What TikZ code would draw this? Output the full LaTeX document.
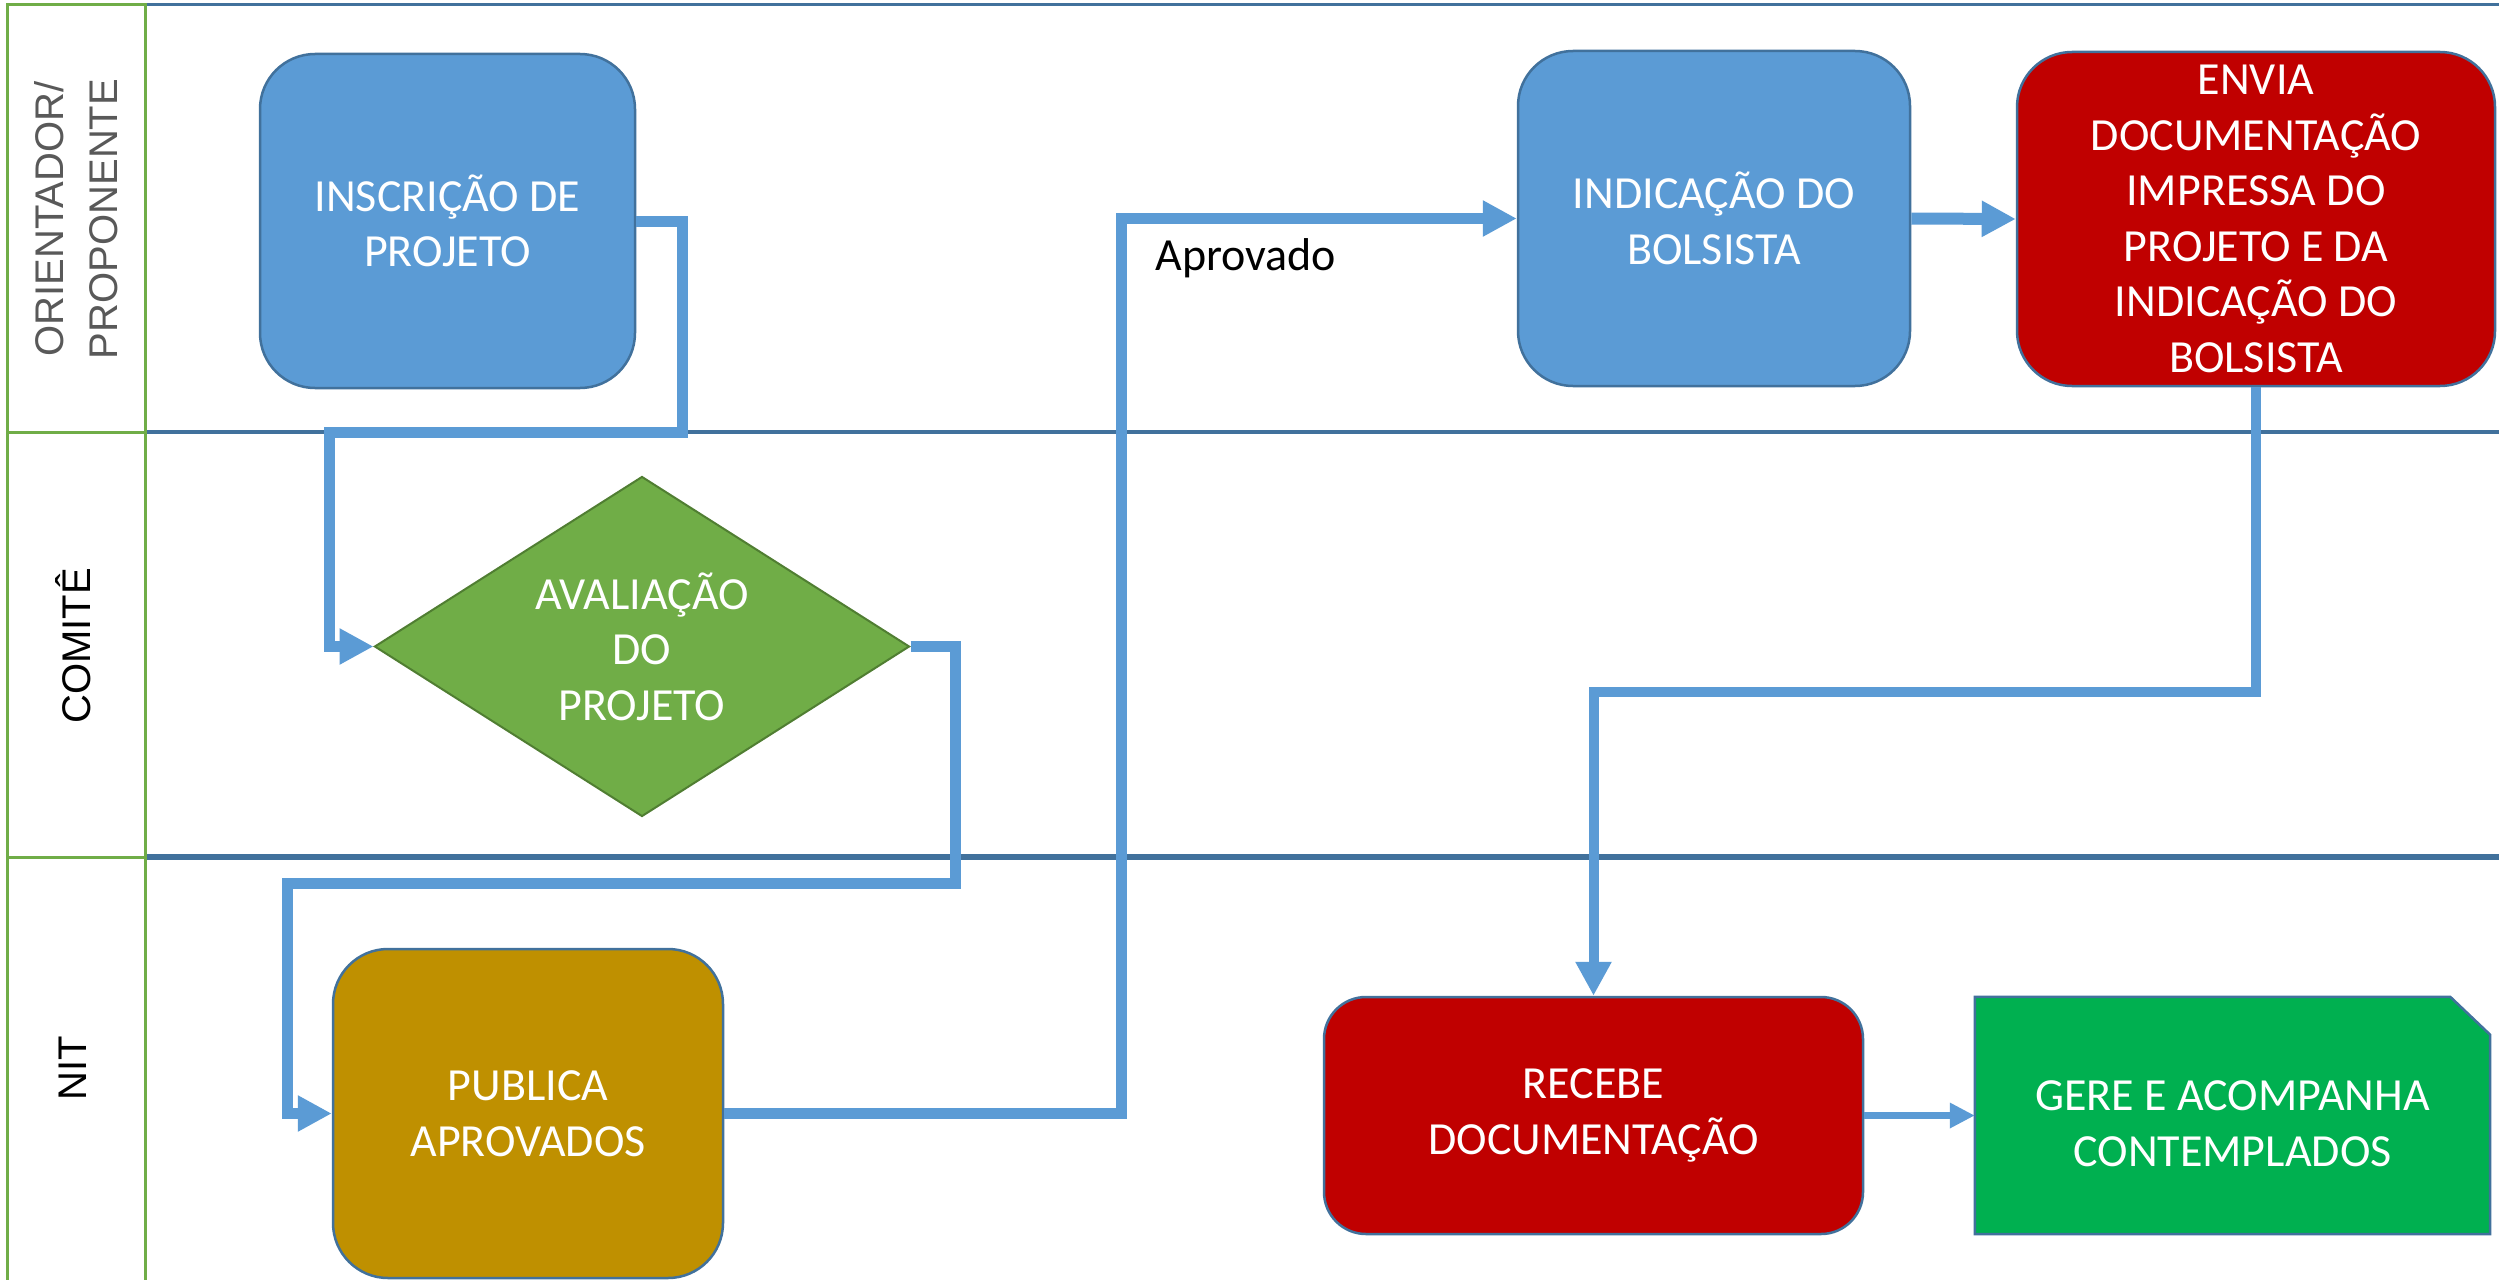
\documentclass[tikz,border=0pt]{standalone}
\usepackage{fontspec}
\setmainfont{Carlito}
\newfontfamily\lanefont{Liberation Sans}
\usetikzlibrary{arrows.meta,shapes.geometric}
\definecolor{boxblue}{HTML}{5B9BD5}
\definecolor{edgeblue}{HTML}{41719C}
\definecolor{boxred}{HTML}{C00000}
\definecolor{boxgold}{HTML}{BF9000}
\definecolor{dgreen}{HTML}{70AD47}
\definecolor{dgreenedge}{HTML}{507E32}
\definecolor{boxgreen}{HTML}{00B050}
\definecolor{lanegreen}{HTML}{70AD47}
\definecolor{labelgray}{HTML}{595959}
\begin{document}
\begin{tikzpicture}[x=1pt,y=-1pt,
  boxtext/.style={text=white, font=\fontsize{46}{55.5}\selectfont, align=center},
  procbox/.style={boxtext, draw=edgeblue, line width=2.5pt, rounded corners=55pt, inner sep=0pt},
  conn/.style={draw=boxblue, line width=11pt, line join=miter, -{Triangle[length=34pt,width=34pt]}},
  lanelabel/.style={font=\lanefont\fontsize{40}{54}\selectfont, rotate=90, align=center},
  laneline/.style={draw=edgeblue, line width=#1},
  greenline/.style={draw=lanegreen, line width=3pt},
]
\fill[white] (0,0) rectangle (2499,1279);
\useasboundingbox (0,0) rectangle (2499,1279);

% lanes
\draw[laneline=3pt] (145,5) -- (2499,5);
\draw[laneline=4pt] (145,432) -- (2499,432);
\draw[laneline=6pt] (145,857) -- (2499,857);
\draw[greenline] (7,5) rectangle (145,1300);
\draw[greenline] (7,432) -- (145,432);
\draw[greenline] (7,857) -- (145,857);

\node[lanelabel, text=labelgray] (l1) at (76,219) {ORIENTADOR/\\PROPONENTE};
\node[lanelabel, font=\lanefont\fontsize{40}{44}\selectfont] (l2) at (73,646) {COMITÊ};
\node[lanelabel, font=\lanefont\fontsize{40}{44}\selectfont] (l3) at (73,1068) {NIT};

% nodes
\node[procbox, fill=boxblue, minimum width=375pt, minimum height=334pt] (insc) at (447.5,221) {INSCRIÇÃO DE\\PROJETO};
\node[boxtext, diamond, aspect=1.57, fill=dgreen, draw=dgreenedge, line width=2pt, minimum width=535pt, minimum height=340pt, inner sep=0pt] (aval) at (642,646.5) {AVALIAÇÃO\\DO\\PROJETO};
\node[procbox, fill=boxgold, minimum width=390pt, minimum height=329pt] (pub) at (528,1113.5) {PUBLICA\\APROVADOS};
\node[procbox, fill=boxblue, minimum width=392pt, minimum height=335pt] (indic) at (1714,218.5) {INDICAÇÃO DO\\BOLSISTA};
\node[procbox, fill=boxred, minimum width=478pt, minimum height=334pt] (envia) at (2256,219) {ENVIA\\DOCUMENTAÇÃO\\IMPRESSA DO\\PROJETO E DA\\INDICAÇÃO DO\\BOLSISTA};
\node[procbox, fill=boxred, rounded corners=42pt, minimum width=539pt, minimum height=237pt] (recebe) at (1593.5,1115.5) {RECEBE\\DOCUMENTAÇÃO};
\node[minimum width=515pt, minimum height=237pt, inner sep=0pt] (gere) at (2232.5,1115.5) {};
\filldraw[fill=boxgreen, draw=edgeblue, line width=2.5pt] (gere.south west) -- (gere.north west) -- ([xshift=-40pt]gere.north east) -- ([yshift=-38pt]gere.north east) -- (gere.south east) -- cycle;
\node[boxtext] (geretxt) at ([yshift=-8pt]gere.center) {GERE E ACOMPANHA\\CONTEMPLADOS};

\node[anchor=base west, font=\fontsize{46}{55}\selectfont] (aprov) at (1152,270) {Aprovado};

% connectors
\draw[conn] (insc.east) -| (682,432) -- (329,432) |- (aval.west);
\draw[conn] (aval.east) -| (955,883) -- (287,883) |- (pub.west);
\draw[conn] (pub.east) -| (1121,600) |- (indic.west);
\draw[conn, line width=12pt] (indic.east) -- (envia.west);
\draw[conn, line width=10pt] (envia.south) |- (1700,692) -| (recebe.north);
\draw[conn, line width=7pt, -{Triangle[length=25pt,width=24pt]}] (recebe.east) -- (gere.west);
\end{tikzpicture}
\end{document}
